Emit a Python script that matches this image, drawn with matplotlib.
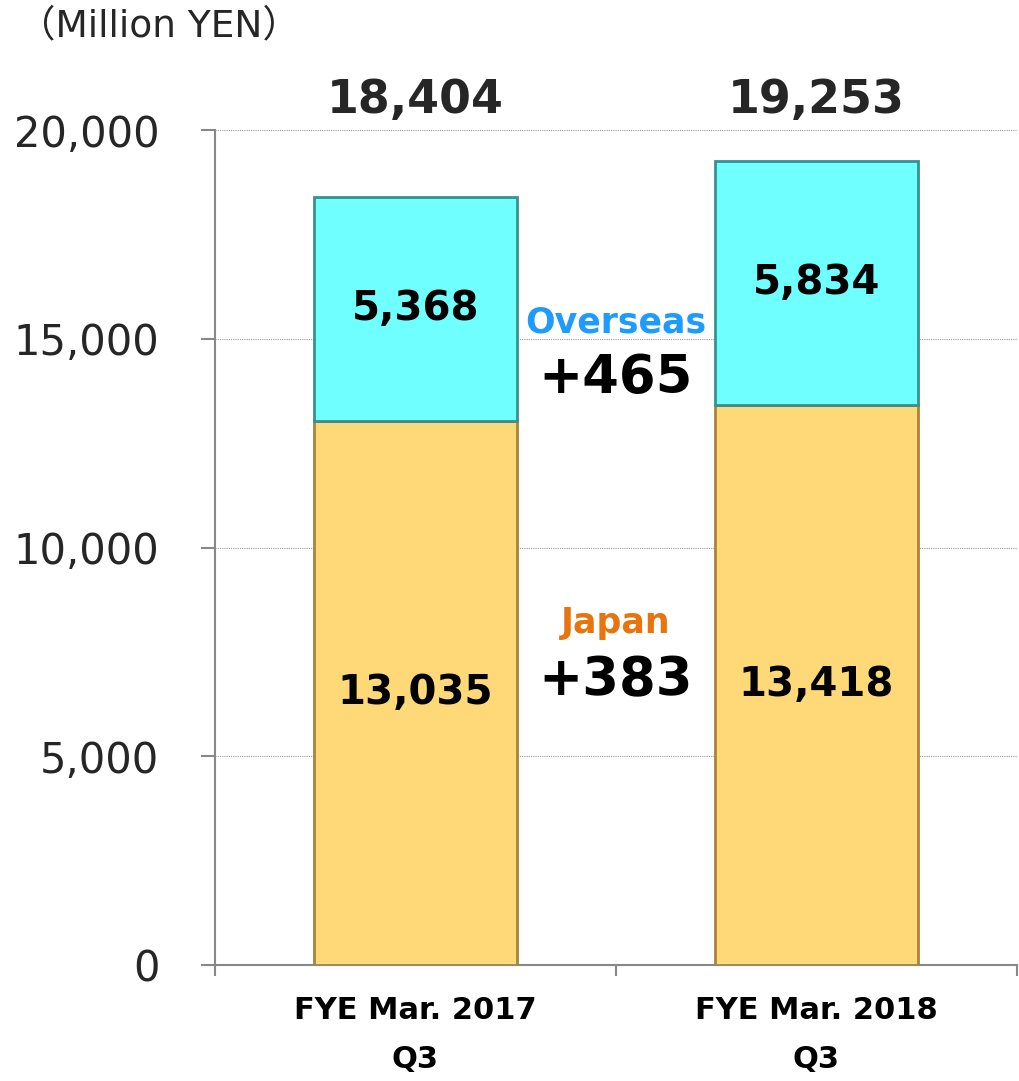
import matplotlib
matplotlib.use("Agg")
import matplotlib.pyplot as plt
import numpy as np

categories = ["FYE Mar. 2017\nQ3", "FYE Mar. 2018\nQ3"]
japan = [13035, 13418]
overseas = [5368, 5834]
totals = [18404, 19253]
diff_overseas = "+465"
diff_japan = "+383"
yticks = [0, 5000, 10000, 15000, 20000]

plt.rcParams['font.family'] = ['DejaVu Sans', 'Noto Sans CJK JP']

fig = plt.figure(figsize=(10.19, 10.81), dpi=100)
ax = fig.add_axes([0.211, 0.1073, 0.787, 0.7724])

x = np.array([0.5, 1.5])
w = 0.505
ax.bar(x, japan, width=w, color="#FFD977", edgecolor="#A8843A", linewidth=2, zorder=3)
ax.bar(x, overseas, width=w, bottom=japan, color="#70FFFF", edgecolor="#3A9090", linewidth=2, zorder=3)

for xi, j, o, t in zip(x, japan, overseas, totals):
    ax.text(xi, j / 2, f"{j:,}", ha="center", va="center", fontsize=29, fontweight="bold", zorder=4)
    ax.text(xi, j + o / 2, f"{o:,}", ha="center", va="center", fontsize=29, fontweight="bold", zorder=4)
    ax.text(xi, 20700, f"{t:,}", ha="center", va="center", fontsize=33, fontweight="bold",
            color="#262626", clip_on=False)

ax.text(1.0, 15400, "Overseas", ha="center", va="center", fontsize=25, fontweight="bold", color="#1E9BFF")
ax.text(1.0, 14050, diff_overseas, ha="center", va="center", fontsize=38, fontweight="bold", color="black")
ax.text(1.0, 8200, "Japan", ha="center", va="center", fontsize=25, fontweight="bold", color="#E8740F")
ax.text(1.0, 6830, diff_japan, ha="center", va="center", fontsize=38, fontweight="bold", color="black")

ax.set_xlim(0, 2)
ax.set_ylim(0, 20000)
ax.set_yticks(yticks)
ax.set_yticklabels([f"{v:,}" for v in yticks], fontsize=30, color="#262626")
ax.set_xticks([0, 1, 2])
ax.set_xticklabels([])
ax.set_xticks(x, minor=True)
ax.set_xticklabels(categories, minor=True, fontsize=22, fontweight="bold", linespacing=1.9)
ax.tick_params(axis="x", which="minor", length=0, pad=22)
ax.tick_params(axis="x", which="major", length=8, color="#888888", width=1.5, direction="out")
ax.tick_params(axis="y", length=10, color="#888888", width=1.5, pad=30)

ax.grid(axis="y", linestyle=(0, (1, 1)), color="#999999", linewidth=0.8, zorder=0)
for s in ["top", "right"]:
    ax.spines[s].set_visible(False)
for s in ["left", "bottom"]:
    ax.spines[s].set_color("#888888")
    ax.spines[s].set_linewidth(1.5)

fig.text(0.018, 0.976, "（Million YEN）", fontsize=27, ha="left", va="center", color="#262626",
         family=['DejaVu Sans', 'Noto Sans CJK JP'])

fig.savefig("out.png", dpi=100)
